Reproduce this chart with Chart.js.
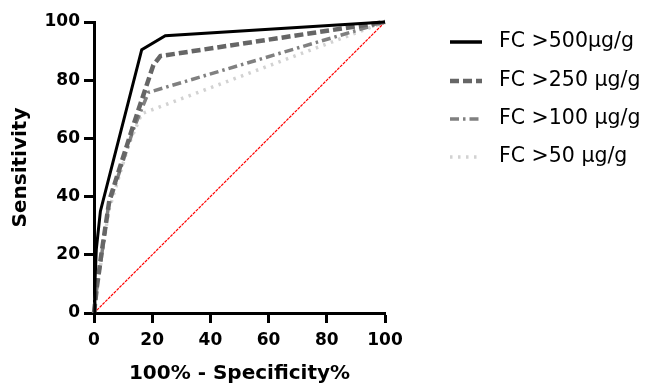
<!DOCTYPE html>
<html><head><meta charset="utf-8">
<script src="https://cdn.jsdelivr.net/npm/chart.js@4/dist/chart.umd.min.js"></script>
<style>html,body{margin:0;padding:0;background:#fff}#wrap{width:649px;height:388px;position:relative}</style>
</head><body><div id="wrap"><canvas id="c"></canvas></div>
<script>
// ---- data ----
const xTicks = [0, 20, 40, 60, 80, 100];
const yTicks = [0, 20, 40, 60, 80, 100];
const seriesLabels = ['FC >500µg/g', 'FC >250 µg/g', 'FC >100 µg/g', 'FC >50 µg/g'];
const fpr500  = [0, 0.3, 0.8, 2.2, 16.4, 24.5, 100];
const sens500 = [0, 10, 22, 35, 90.5, 95.3, 100];
const fpr250  = [0, 1, 2.5, 5.3, 14.1, 20.4, 22.8, 100];
const sens250 = [0, 9, 20, 38.8, 66.3, 85.2, 88.3, 100];
const fpr100  = [0, 1, 2.5, 5, 13.5, 18.7, 100];
const sens100 = [0, 9, 19, 37, 63, 75.8, 100];
const fpr50   = [0, 1, 2.5, 5, 12, 16.4, 100];
const sens50  = [0, 8, 18, 35, 58, 68.5, 100];
const refX = [0, 100];
const refY = [0, 100];

// ---- styles ----
const FONT = "'DejaVu Sans', sans-serif";
const styles = [
  {color: '#000000', width: 3, dash: [], cap: 'butt'},
  {color: '#666666', width: 4.5, dash: [9, 4], cap: 'butt'},
  {color: '#808080', width: 3.5, dash: [9, 4, 2.5, 4], cap: 'butt'},
  {color: '#d2d2d2', width: 3.5, dash: [2.5, 5.5], cap: 'butt'}
];
const pts = (xs, ys) => xs.map((x, i) => ({x: x, y: ys[i]}));
const seriesX = [fpr500, fpr250, fpr100, fpr50];
const seriesY = [sens500, sens250, sens100, sens50];

const datasets = seriesLabels.map((lab, i) => ({
  label: lab,
  data: pts(seriesX[i], seriesY[i]),
  borderColor: styles[i].color,
  borderWidth: styles[i].width,
  borderDash: styles[i].dash,
  borderCapStyle: styles[i].cap,
  pointRadius: 0,
  tension: 0,
  clip: false,
  fill: false
}));
datasets.push({
  label: 'ref', data: pts(refX, refY), borderColor: '#ff0000', borderWidth: 1.2,
  borderDash: [3, 1], pointRadius: 0, clip: false, fill: false
});

const legendPlugin = {
  id: 'customLegend',
  afterDraw(chart) {
    const ctx = chart.ctx;
    const rows = [42, 81, 119, 157];
    ctx.save();
    seriesLabels.forEach((lab, i) => {
      const y = rows[i];
      ctx.beginPath();
      ctx.strokeStyle = styles[i].color;
      ctx.lineWidth = i === 0 ? 3.5 : styles[i].width;
      ctx.setLineDash(styles[i].dash);
      ctx.moveTo(450, y);
      ctx.lineTo(482, y);
      ctx.stroke();
      ctx.setLineDash([]);
      ctx.fillStyle = '#000';
      ctx.font = "20.5px " + FONT;
      ctx.textBaseline = 'middle';
      ctx.textAlign = 'left';
      ctx.fillText(lab, 499, y);
    });
    ctx.restore();
  }
};

const axisCommon = (ticksArr, titleText, isX) => ({
  type: 'linear', min: 0, max: 100,
  afterBuildTicks: s => { s.ticks = ticksArr.map(v => ({value: v})); },
  afterFit: s => { if (isX) s.height = 75; else s.width = 94; },
  ticks: {color: '#000', padding: isX ? 7 : 4, font: {family: FONT, size: 17, weight: 'bold'}},
  grid: {drawOnChartArea: false, drawTicks: true, tickLength: 10, tickWidth: 3, tickColor: '#000'},
  border: {display: true, color: '#000', width: 3},
  title: {display: true, text: titleText, color: '#000',
          font: {family: FONT, size: 20, weight: 'bold'},
          padding: isX ? {top: 0, bottom: 2} : {top: 9, bottom: 0}}
});

new Chart(document.getElementById('c'), {
  type: 'line',
  data: {datasets: datasets},
  options: {
    responsive: true, maintainAspectRatio: false, animation: false,
    layout: {padding: {left: 0, right: 264, top: 22, bottom: 0}},
    plugins: {legend: {display: false}, tooltip: {enabled: false}},
    scales: {
      x: axisCommon(xTicks, '100% - Specificity%', true),
      y: axisCommon(yTicks, 'Sensitivity', false)
    }
  },
  plugins: [legendPlugin]
});
</script></body></html>
